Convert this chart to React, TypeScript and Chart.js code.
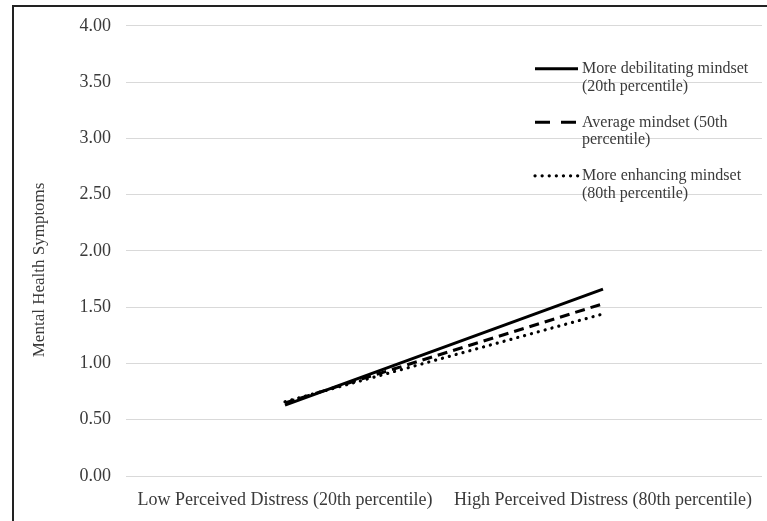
import React, { useEffect, useRef } from "react";
import { Chart, registerables } from "chart.js";
Chart.register(...registerables);

const categories = [
  "Low Perceived Distress (20th percentile)",
  "High Perceived Distress (80th percentile)",
];
const debilitatingMindset = [0.63, 1.66];
const averageMindset = [0.65, 1.53];
const enhancingMindset = [0.66, 1.44];
const legendLines = [
  ["More debilitating mindset", "(20th percentile)"],
  ["Average mindset (50th", "percentile)"],
  ["More enhancing mindset", "(80th percentile)"],
];
const yAxisTitle = "Mental Health Symptoms";
const yMin = 0;
const yMax = 4;
const yStep = 0.5;

const FONT = "'Liberation Serif', 'Times New Roman', serif";
const TEXT = "#3a3a3a";

const overlayPlugin = {
  id: "overlay",
  afterDraw(chart: any) {
    const ctx = chart.ctx;
    const area = chart.chartArea;
    ctx.save();
    // y axis title
    ctx.fillStyle = TEXT;
    ctx.font = `17px ${FONT}`;
    ctx.textAlign = "center";
    ctx.textBaseline = "middle";
    ctx.translate(40, (area.top + area.bottom) / 2 + 19);
    ctx.rotate(-Math.PI / 2);
    ctx.fillText(yAxisTitle, 0, 0);
    ctx.restore();

    // legend
    ctx.save();
    const x0 = area.right - 227;
    const x1 = area.right - 184;
    const tx = area.right - 180;
    chart.data.datasets.forEach((ds: any, i: number) => {
      const y = area.top + 43 + i * 53.5;
      ctx.save();
      ctx.strokeStyle = ds.borderColor;
      ctx.lineWidth = ds.borderWidth;
      ctx.lineCap = ds.borderCapStyle || "butt";
      ctx.setLineDash(ds.legendDash || []);
      ctx.beginPath();
      ctx.moveTo(x0, y);
      ctx.lineTo(x1, y);
      ctx.stroke();
      ctx.restore();
      ctx.fillStyle = TEXT;
      ctx.font = `16px ${FONT}`;
      ctx.textAlign = "left";
      ctx.textBaseline = "middle";
      legendLines[i].forEach((t, j) => {
        ctx.fillText(t, tx, y + j * 17.5);
      });
    });
    ctx.restore();
  },
};

export default function App() {
  const ref = useRef<HTMLCanvasElement>(null);
  useEffect(() => {
    if (!ref.current) return;
    const chart = new Chart(ref.current, {
      type: "line",
      data: {
        labels: categories,
        datasets: [
          {
            label: legendLines[0].join(" "),
            data: debilitatingMindset,
            borderColor: "#000",
            borderWidth: 3,
            pointRadius: 0,
            fill: false,
            tension: 0,
            legendDash: [],
          } as any,
          {
            label: legendLines[1].join(" "),
            data: averageMindset,
            borderColor: "#000",
            borderWidth: 3,
            borderDash: [10, 6],
            pointRadius: 0,
            fill: false,
            tension: 0,
            legendDash: [15, 11],
          } as any,
          {
            label: legendLines[2].join(" "),
            data: enhancingMindset,
            borderColor: "#000",
            borderWidth: 3.2,
            borderDash: [0.1, 7],
            borderCapStyle: "round",
            pointRadius: 0,
            fill: false,
            tension: 0,
            legendDash: [0.1, 7],
          } as any,
        ],
      },
      options: {
        responsive: false,
        animation: false,
        layout: { padding: { top: 25, right: 5, bottom: 0, left: 0 } },
        plugins: { legend: { display: false }, tooltip: { enabled: false } },
        scales: {
          x: {
            offset: true,
            grid: { display: false, drawTicks: false },
            border: { display: false },
            ticks: {
              color: TEXT,
              font: { family: FONT, size: 18 },
              padding: 13,
              maxRotation: 0,
              autoSkip: false,
            },
            afterFit(scale: any) {
              scale.height = 45;
            },
          },
          y: {
            min: yMin,
            max: yMax,
            grid: { color: "#d9d9d9", lineWidth: 1, drawTicks: false },
            border: { display: false },
            ticks: {
              stepSize: yStep,
              color: TEXT,
              font: { family: FONT, size: 18 },
              padding: 15,
              callback: (v: any) => Number(v).toFixed(2),
            },
            afterFit(scale: any) {
              scale.width = 126;
            },
          },
        },
      },
      plugins: [overlayPlugin],
    });
    return () => chart.destroy();
  }, []);
  return (
    <div style={{ position: "fixed", left: 0, top: 0, width: 767, height: 521, background: "#fff" }}>
      <canvas ref={ref} width={767} height={521} style={{ position: "absolute", left: 0, top: 0 }} />
      <div
        style={{
          position: "absolute",
          left: 12,
          top: 5,
          width: 760,
          height: 530,
          borderLeft: "2px solid #222",
          borderTop: "2px solid #222",
          pointerEvents: "none",
        }}
      />
    </div>
  );
}
